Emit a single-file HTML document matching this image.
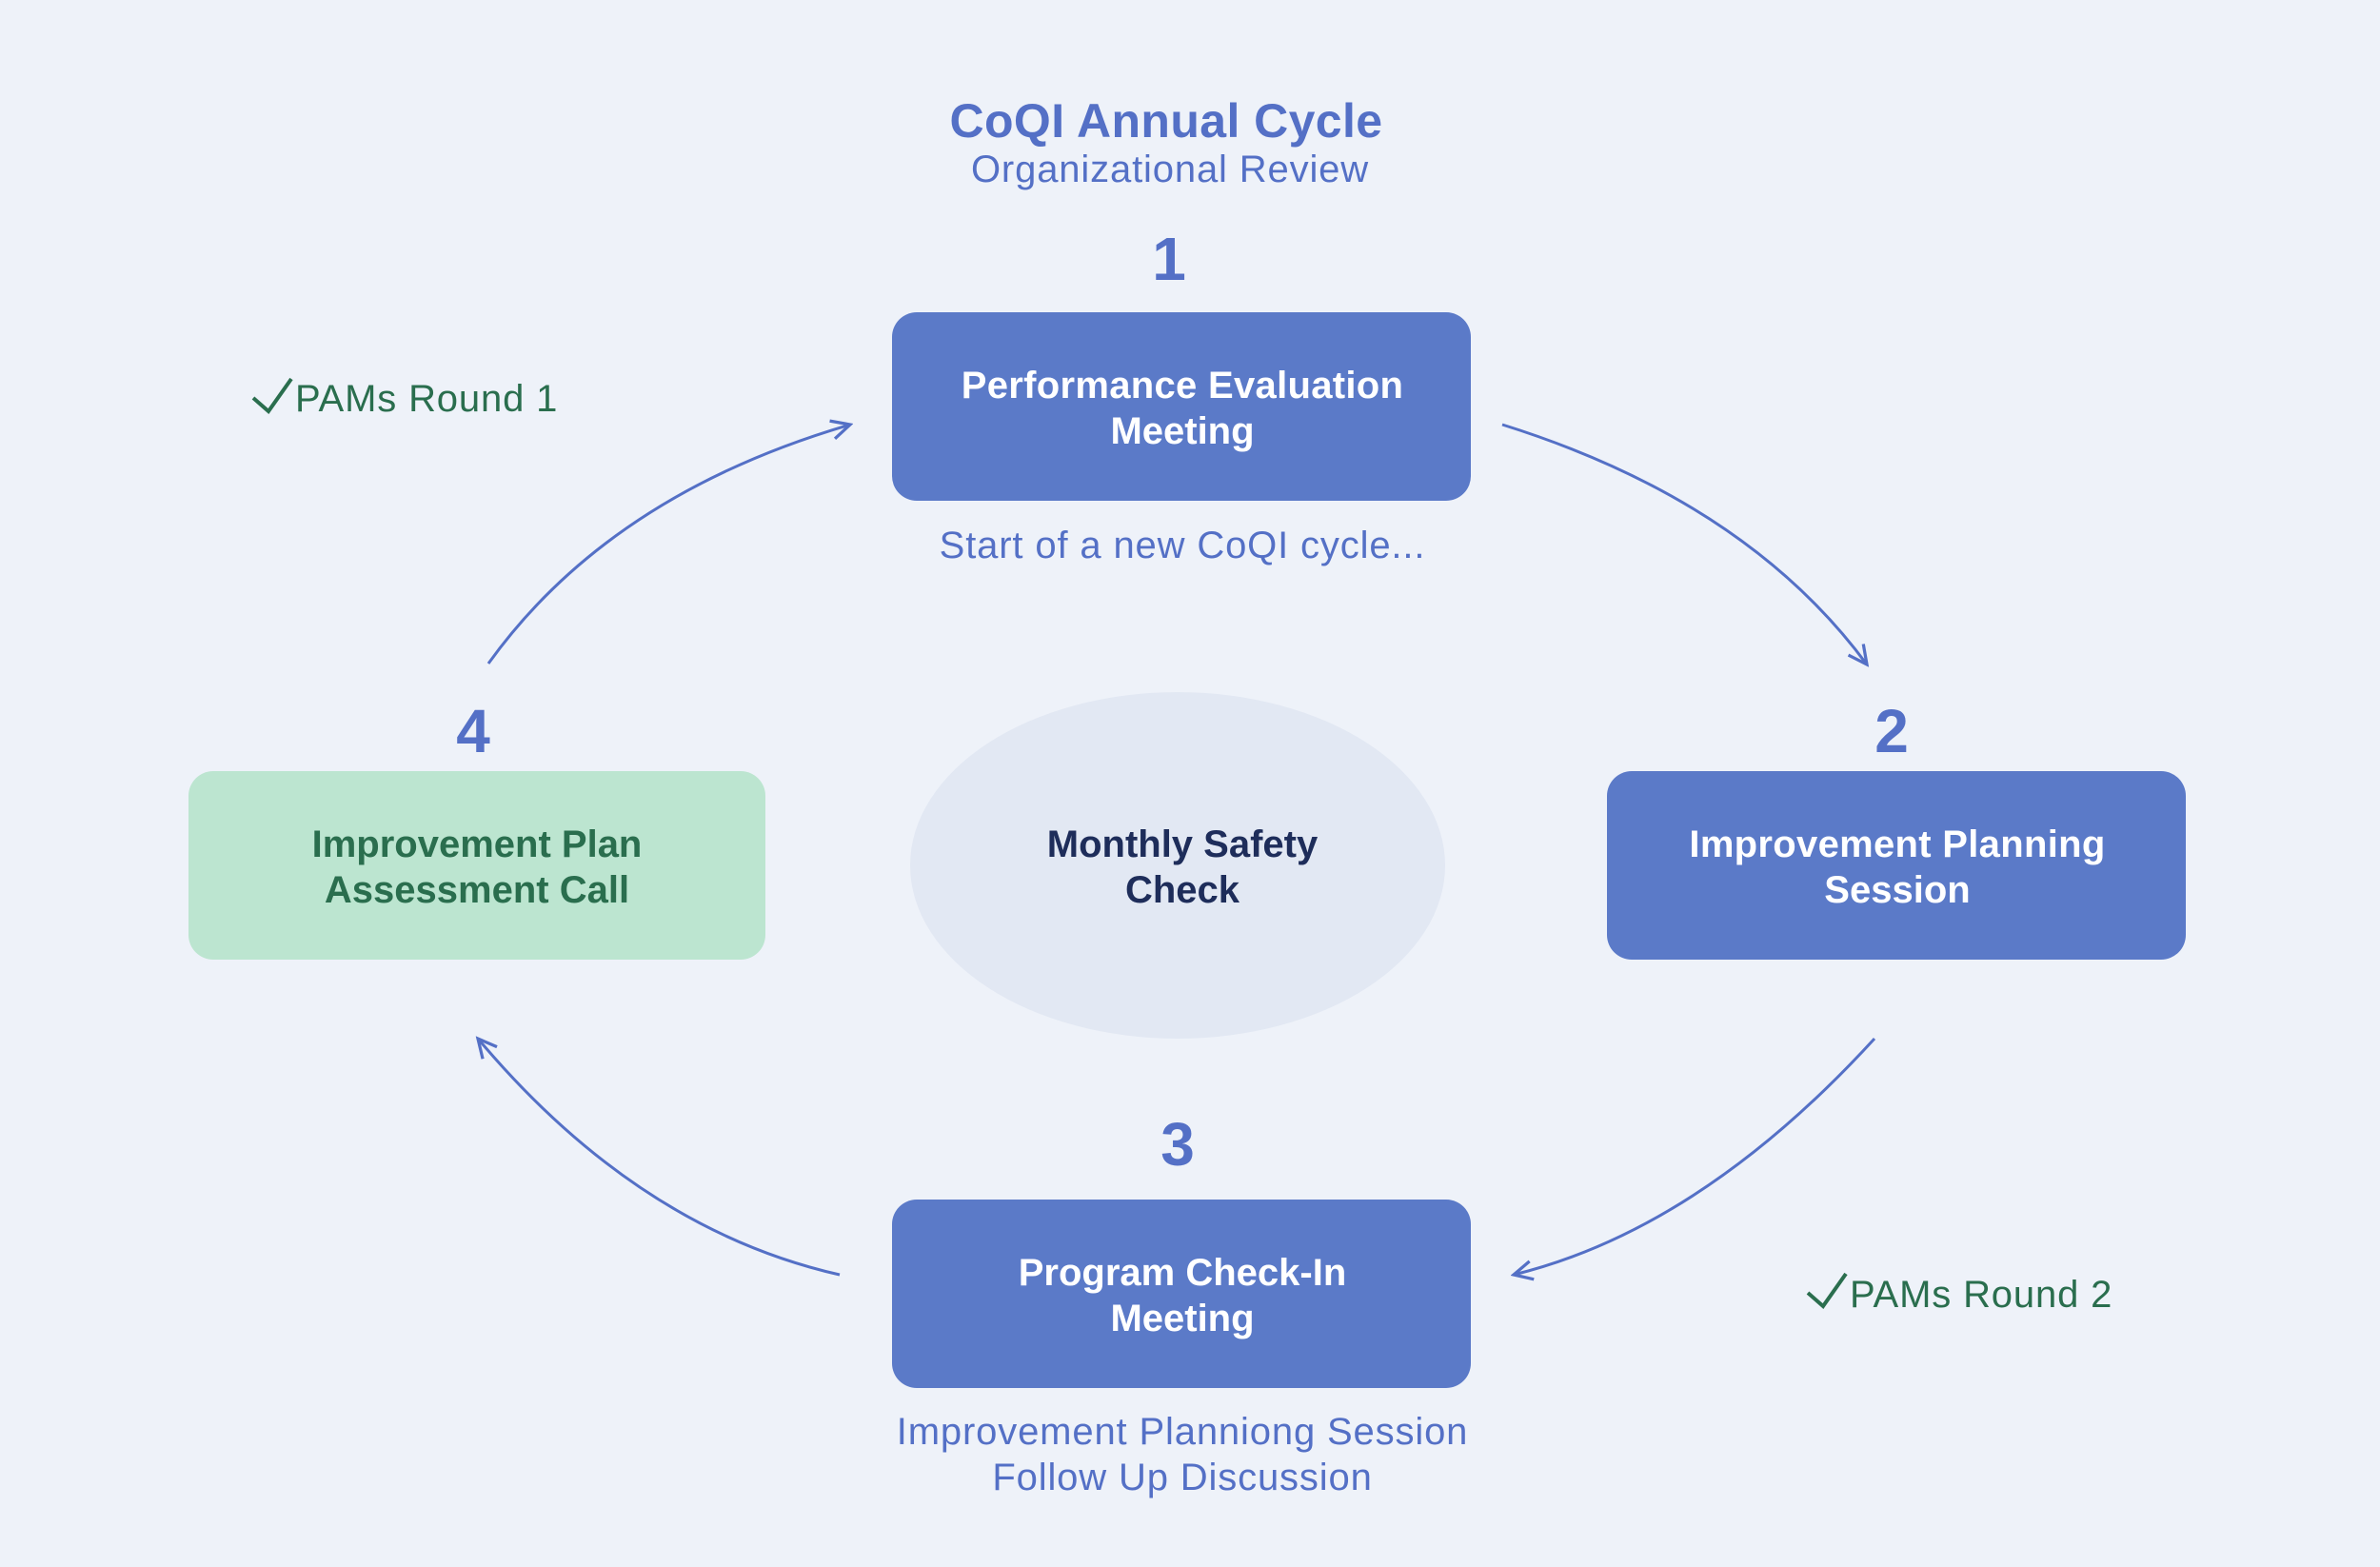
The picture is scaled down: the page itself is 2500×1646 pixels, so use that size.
<!DOCTYPE html>
<html><head><meta charset="utf-8"><style>
html,body{margin:0;padding:0;background:#eef2f9;}
svg{display:block;}
text{font-family:"Liberation Sans","DejaVu Sans",sans-serif;}
.r{letter-spacing:0.85px;}
</style></head><body>
<svg width="2500" height="1646" viewBox="0 0 2500 1646" xmlns="http://www.w3.org/2000/svg">
<defs>
<marker id="ah2" viewBox="0 0 24 24" refX="21" refY="12" markerWidth="26" markerHeight="26" markerUnits="userSpaceOnUse" orient="auto">
<path d="M3,3 L21,12 L3,21" fill="none" stroke="#5470c6" stroke-width="3"/>
</marker>
</defs>
<rect width="2500" height="1646" fill="#eef2f9"/>
<text x="1225" y="144" text-anchor="middle" font-size="50" font-weight="bold" fill="#5470c6" style="letter-spacing:0.4px">CoQI Annual Cycle</text>
<text class="r" x="1229" y="191" text-anchor="middle" font-size="40" fill="#5470c6">Organizational Review</text>

<ellipse cx="1237" cy="909" rx="281" ry="182" fill="#e2e8f3"/>
<text x="1242" y="900" text-anchor="middle" font-size="40" font-weight="bold" fill="#1e2d5a">Monthly Safety</text>
<text x="1242" y="948" text-anchor="middle" font-size="40" font-weight="bold" fill="#1e2d5a">Check</text>

<text x="1228" y="294" text-anchor="middle" font-size="64" font-weight="bold" fill="#5470c6">1</text>
<rect x="937" y="328" width="608" height="198" rx="26" fill="#5b7ac8"/>
<text x="1242" y="418" text-anchor="middle" font-size="40" font-weight="bold" fill="#ffffff" style="letter-spacing:0.3px">Performance Evaluation</text>
<text x="1242" y="466" text-anchor="middle" font-size="40" font-weight="bold" fill="#ffffff">Meeting</text>
<text class="r" x="1242" y="586" text-anchor="middle" font-size="40" fill="#5470c6">Start of a new CoQI cycle...</text>

<text x="1987" y="790" text-anchor="middle" font-size="64" font-weight="bold" fill="#5470c6">2</text>
<rect x="1688" y="810" width="608" height="198" rx="26" fill="#5b7ac8"/>
<text x="1993" y="900" text-anchor="middle" font-size="40" font-weight="bold" fill="#ffffff" style="letter-spacing:0.3px">Improvement Planning</text>
<text x="1993" y="948" text-anchor="middle" font-size="40" font-weight="bold" fill="#ffffff">Session</text>

<text x="1237" y="1224" text-anchor="middle" font-size="64" font-weight="bold" fill="#5470c6">3</text>
<rect x="937" y="1260" width="608" height="198" rx="26" fill="#5b7ac8"/>
<text x="1242" y="1350" text-anchor="middle" font-size="40" font-weight="bold" fill="#ffffff">Program Check-In</text>
<text x="1242" y="1398" text-anchor="middle" font-size="40" font-weight="bold" fill="#ffffff">Meeting</text>
<text class="r" x="1242" y="1517" text-anchor="middle" font-size="40" fill="#5470c6">Improvement Planniong Session</text>
<text class="r" x="1242" y="1565" text-anchor="middle" font-size="40" fill="#5470c6">Follow Up Discussion</text>

<text x="497" y="790" text-anchor="middle" font-size="64" font-weight="bold" fill="#5470c6">4</text>
<rect x="198" y="810" width="606" height="198" rx="26" fill="#bce5d0"/>
<text x="501" y="900" text-anchor="middle" font-size="40" font-weight="bold" fill="#2a6e4e">Improvement Plan</text>
<text x="501" y="948" text-anchor="middle" font-size="40" font-weight="bold" fill="#2a6e4e">Assessment Call</text>

<path d="M266,418 L282,432 L306,398" fill="none" stroke="#2a6e4e" stroke-width="4"/>
<text class="r" x="310" y="432" font-size="40" fill="#2a6e4e">PAMs Round 1</text>
<path d="M1899,1358 L1915,1372 L1939,1338" fill="none" stroke="#2a6e4e" stroke-width="4"/>
<text class="r" x="1943" y="1373" font-size="40" fill="#2a6e4e">PAMs Round 2</text>

<g fill="none" stroke="#5470c6" stroke-width="3">
<path d="M513,697 Q640,520 893,446" marker-end="url(#ah2)"/>
<path d="M1578,446 Q1834,526 1961,698" marker-end="url(#ah2)"/>
<path d="M1969,1091 Q1786,1291 1590,1339" marker-end="url(#ah2)"/>
<path d="M882,1339 Q670,1291 502,1091" marker-end="url(#ah2)"/>
</g>
</svg>
</body></html>
